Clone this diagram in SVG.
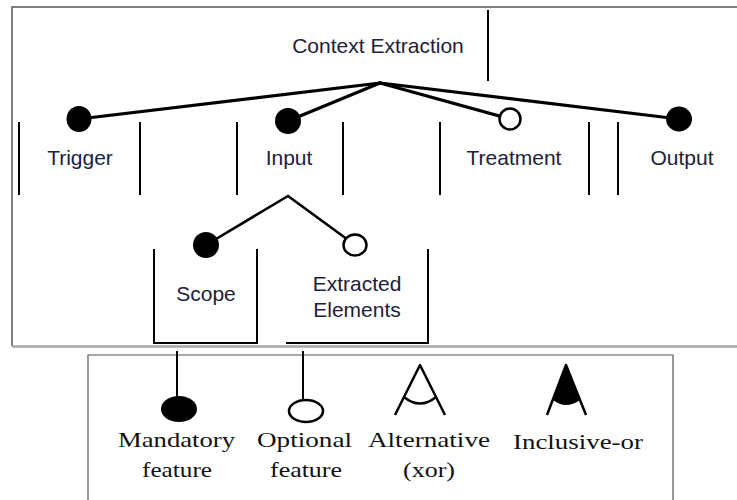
<svg xmlns="http://www.w3.org/2000/svg" width="737" height="500" viewBox="0 0 737 500">
  <style>
    .label { font-family: "Liberation Sans", Arial, sans-serif; font-size: 21px; fill: #22203a; text-anchor: middle; }
    .legend-text { font-family: "Liberation Serif", "Times New Roman", serif; font-size: 22px; fill: #111; text-anchor: middle; }
    .edge { stroke: #000; stroke-width: 3.2; fill: none; stroke-linecap: round; }
    .edge-thin { stroke: #000; stroke-width: 2.6; fill: none; stroke-linecap: round; }
    .wall { stroke: #000; stroke-width: 2; fill: none; }
    .mandatory { fill: #000; }
    .optional { fill: #fff; stroke: #000; stroke-width: 2.5; }
  </style>

  <rect width="737" height="500" fill="#fff"/>

  <!-- outer frame of the feature tree -->
  <g id="frame">
    <path d="M742,7 H12 V346" fill="none" stroke="#555" stroke-width="1.5"/>
    <line x1="12" y1="346.5" x2="737" y2="346.5" stroke="#a8a8a8" stroke-width="2.5"/>
  </g>

  <!-- connectors between features -->
  <g id="connectors">
    <line class="edge" x1="380" y1="83" x2="79" y2="119"/>
    <line class="edge" x1="380" y1="83" x2="288" y2="121"/>
    <line class="edge" x1="380" y1="83" x2="510" y2="119"/>
    <line class="edge" x1="380" y1="83" x2="679" y2="119"/>
    <line class="edge-thin" x1="288" y1="196" x2="206" y2="245"/>
    <line class="edge-thin" x1="288" y1="196" x2="355" y2="245"/>
    <ellipse class="mandatory" cx="79" cy="119" rx="12.5" ry="13"/>
    <ellipse class="mandatory" cx="288" cy="121" rx="13" ry="13"/>
    <ellipse class="optional" cx="510" cy="119" rx="10.5" ry="10.5"/>
    <ellipse class="mandatory" cx="679" cy="119" rx="13" ry="12.5"/>
    <ellipse class="mandatory" cx="206" cy="245" rx="13" ry="13"/>
    <ellipse class="optional" cx="355" cy="245" rx="11.5" ry="10.5"/>
  </g>

  <g id="node-context-extraction">
    <text class="label" x="378" y="53">Context Extraction</text>
    <line class="wall" x1="488" y1="10" x2="488" y2="81"/>
  </g>

  <g id="node-trigger">
    <line class="wall" x1="19" y1="122" x2="19" y2="195"/>
    <line class="wall" x1="140" y1="122" x2="140" y2="195"/>
    <text class="label" x="80" y="165">Trigger</text>
  </g>

  <g id="node-input">
    <line class="wall" x1="237" y1="122" x2="237" y2="195"/>
    <line class="wall" x1="343" y1="122" x2="343" y2="195"/>
    <text class="label" x="289" y="165">Input</text>
  </g>

  <g id="node-treatment">
    <line class="wall" x1="440" y1="122" x2="440" y2="195"/>
    <line class="wall" x1="589" y1="122" x2="589" y2="195"/>
    <text class="label" x="514" y="165">Treatment</text>
  </g>

  <g id="node-output">
    <line class="wall" x1="618" y1="122" x2="618" y2="195"/>
    <text class="label" x="682" y="165">Output</text>
  </g>

  <g id="node-scope">
    <path class="wall" d="M154,249 V343 H257 V249"/>
    <text class="label" x="206" y="301">Scope</text>
  </g>

  <g id="node-extracted-elements">
    <path class="wall" d="M286,343 H428 V249"/>
    <text class="label" x="357" y="291">Extracted</text>
    <text class="label" x="357" y="317">Elements</text>
  </g>

  <!-- legend -->
  <g id="legend">
    <path d="M88,505 V355 H673 V505" fill="none" stroke="#555" stroke-width="1.2"/>

    <line x1="177" y1="351" x2="177" y2="398" stroke="#000" stroke-width="2"/>
    <ellipse cx="179" cy="409" rx="18" ry="13" fill="#000"/>
    <text class="legend-text" x="176.5" y="447" textLength="117" lengthAdjust="spacingAndGlyphs">Mandatory</text>
    <text class="legend-text" x="177" y="477" textLength="70" lengthAdjust="spacingAndGlyphs">feature</text>

    <line x1="303" y1="351" x2="303" y2="400" stroke="#000" stroke-width="2"/>
    <ellipse cx="306" cy="411" rx="17" ry="11" fill="#fff" stroke="#000" stroke-width="2.5"/>
    <text class="legend-text" x="304.5" y="447" textLength="95" lengthAdjust="spacingAndGlyphs">Optional</text>
    <text class="legend-text" x="306" y="477" textLength="72" lengthAdjust="spacingAndGlyphs">feature</text>

    <path d="M395,415 L420,365 L445,415 M404,397 Q420,410 436,397" fill="none" stroke="#000" stroke-width="2.5" stroke-linejoin="round"/>
    <text class="legend-text" x="429" y="447" textLength="122" lengthAdjust="spacingAndGlyphs">Alternative</text>
    <text class="legend-text" x="429" y="477" textLength="52" lengthAdjust="spacingAndGlyphs">(xor)</text>

    <path d="M566,365 L553,400 Q566,410 580,400 Z" fill="#000"/>
    <path d="M547,415 L566,365 L586,415" fill="none" stroke="#000" stroke-width="2.5" stroke-linejoin="round"/>
    <text class="legend-text" x="578" y="449" textLength="130" lengthAdjust="spacingAndGlyphs">Inclusive-or</text>
  </g>
</svg>
